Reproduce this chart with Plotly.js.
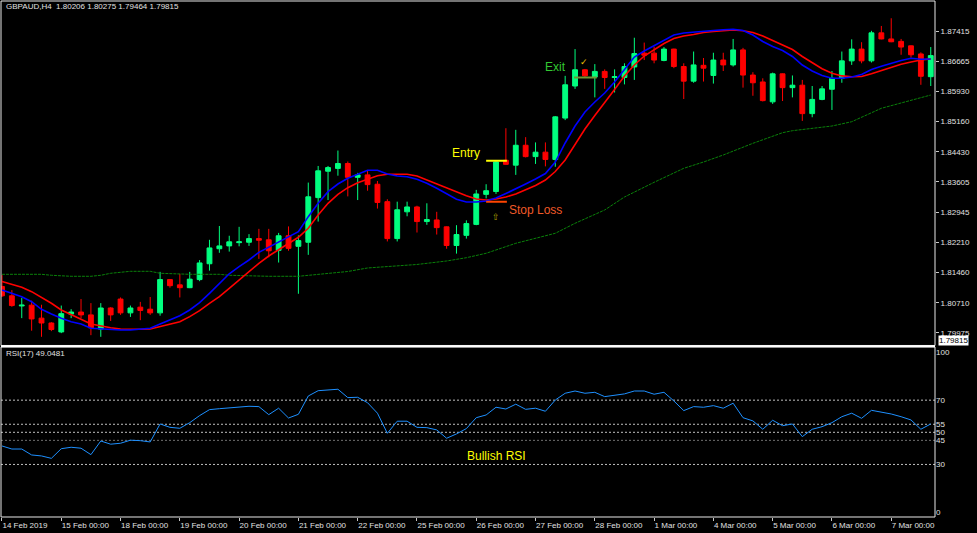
<!DOCTYPE html>
<html><head><meta charset="utf-8">
<script src="https://cdn.plot.ly/plotly-3.0.1.min.js"></script>
<style>html,body{margin:0;padding:0;background:#000;}#chart{width:977px;height:533px;}</style>
</head><body><div id="chart"></div>
<script>
// ---- data ----
var barOpen = [1.8112,1.8089,1.8064,1.8066,1.8034,1.8022,1.8000,1.8044,1.8049,1.8042,
1.8007,1.8059,1.8081,1.8047,1.8061,1.8056,1.8047,1.8129,1.8116,1.8109,
1.8129,1.8168,1.8205,1.8212,1.8220,1.8221,1.8230,1.8227,1.8201,1.8237,
1.8211,1.8221,1.8331,1.8396,1.8403,1.8415,1.8381,1.8387,1.8364,1.8321,
1.8230,1.8296,1.8308,1.8272,1.8276,1.8259,1.8213,1.8238,1.8265,1.8339,
1.8346,1.8423,1.8411,1.8460,1.8432,1.8443,1.8425,1.8527,1.8606,1.8646,
1.8628,1.8642,1.8627,1.8627,1.8653,1.8687,1.8687,1.8669,1.8697,1.8654,
1.8618,1.8657,1.8632,1.8670,1.8658,1.8695,1.8633,1.8616,1.8567,1.8636,
1.8602,1.8608,1.8538,1.8573,1.8598,1.8625,1.8668,1.8697,1.8668,1.8737,
1.8722,1.8716,1.8705,1.8685,1.8629];
var barHigh = [1.8140,1.8103,1.8084,1.8077,1.8067,1.8024,1.8065,1.8056,1.8081,1.8071,
1.8071,1.8061,1.8085,1.8065,1.8074,1.8086,1.8148,1.8130,1.8143,1.8148,
1.8177,1.8227,1.8261,1.8237,1.8259,1.8241,1.8254,1.8254,1.8244,1.8260,
1.8238,1.8368,1.8409,1.8409,1.8447,1.8420,1.8392,1.8398,1.8372,1.8327,
1.8321,1.8321,1.8311,1.8317,1.8296,1.8260,1.8263,1.8275,1.8350,1.8364,
1.8422,1.8502,1.8498,1.8480,1.8467,1.8467,1.8532,1.8631,1.8697,1.8648,
1.8660,1.8647,1.8647,1.8662,1.8725,1.8713,1.8703,1.8702,1.8698,1.8662,
1.8691,1.8675,1.8688,1.8688,1.8722,1.8700,1.8640,1.8625,1.8639,1.8637,
1.8632,1.8621,1.8606,1.8606,1.8643,1.8691,1.8721,1.8714,1.8742,1.8754,
1.8773,1.8722,1.8706,1.8689,1.8702];
var barLow = [1.8086,1.8062,1.8034,1.8003,1.7988,1.8002,1.7997,1.8034,1.8034,1.7992,
1.7988,1.8027,1.8042,1.8037,1.8029,1.8042,1.8040,1.8109,1.8085,1.8108,
1.8125,1.8151,1.8195,1.8198,1.8211,1.8212,1.8180,1.8184,1.8171,1.8200,
1.8094,1.8190,1.8272,1.8325,1.8385,1.8334,1.8325,1.8348,1.8304,1.8223,
1.8223,1.8285,1.8245,1.8264,1.8240,1.8205,1.8193,1.8230,1.8263,1.8329,
1.8340,1.8412,1.8387,1.8430,1.8414,1.8408,1.8407,1.8522,1.8599,1.8628,
1.8578,1.8599,1.8590,1.8610,1.8621,1.8670,1.8662,1.8667,1.8650,1.8574,
1.8614,1.8617,1.8612,1.8643,1.8654,1.8602,1.8582,1.8568,1.8562,1.8569,
1.8578,1.8520,1.8529,1.8571,1.8547,1.8614,1.8658,1.8662,1.8664,1.8721,
1.8714,1.8683,1.8676,1.8609,1.8606];
var barClose = [1.8089,1.8065,1.8066,1.8032,1.8022,1.8006,1.8045,1.8049,1.8042,1.8010,
1.8059,1.8042,1.8047,1.8059,1.8053,1.8047,1.8129,1.8114,1.8109,1.8130,
1.8170,1.8207,1.8212,1.8222,1.8222,1.8230,1.8226,1.8200,1.8237,1.8206,
1.8225,1.8333,1.8397,1.8405,1.8415,1.8381,1.8387,1.8363,1.8319,1.8230,
1.8301,1.8308,1.8272,1.8277,1.8257,1.8213,1.8240,1.8267,1.8340,1.8348,
1.8419,1.8413,1.8460,1.8432,1.8443,1.8425,1.8530,1.8609,1.8646,1.8631,
1.8642,1.8627,1.8629,1.8654,1.8686,1.8682,1.8670,1.8697,1.8654,1.8618,
1.8658,1.8650,1.8670,1.8658,1.8695,1.8633,1.8614,1.8570,1.8636,1.8602,
1.8608,1.8538,1.8573,1.8599,1.8625,1.8668,1.8697,1.8668,1.8737,1.8722,
1.8715,1.8702,1.8683,1.8630,1.8681];
var maFast = [1.81033,1.80952,1.80868,1.80745,1.80558,1.80442,1.80336,1.80252,1.80196,1.80090,
1.80072,1.80048,1.80048,1.80048,1.80072,1.80090,1.80196,1.80294,1.80400,1.80541,
1.80721,1.80952,1.81199,1.81433,1.81608,1.81773,1.81962,1.82086,1.82209,1.82332,
1.82470,1.82840,1.83170,1.83456,1.83645,1.83786,1.83884,1.83983,1.83983,1.83892,
1.83842,1.83825,1.83761,1.83663,1.83539,1.83399,1.83268,1.83202,1.83202,1.83226,
1.83300,1.83411,1.83522,1.83645,1.83768,1.83904,1.84187,1.84656,1.85074,1.85419,
1.85666,1.85888,1.86159,1.86479,1.86775,1.86922,1.87058,1.87193,1.87317,1.87366,
1.87391,1.87415,1.87428,1.87445,1.87457,1.87428,1.87317,1.87156,1.87033,1.86935,
1.86787,1.86577,1.86430,1.86319,1.86250,1.86250,1.86282,1.86343,1.86467,1.86548,
1.86627,1.86688,1.86743,1.86718,1.86725];
var maSlow = [1.81243,1.81169,1.81100,1.80992,1.80854,1.80706,1.80541,1.80417,1.80311,1.80196,
1.80146,1.80105,1.80072,1.80065,1.80065,1.80072,1.80129,1.80196,1.80252,1.80376,
1.80523,1.80706,1.80868,1.81075,1.81280,1.81484,1.81691,1.81871,1.82019,1.82184,
1.82332,1.82554,1.82881,1.83170,1.83391,1.83554,1.83677,1.83761,1.83850,1.83884,
1.83892,1.83884,1.83842,1.83744,1.83638,1.83539,1.83441,1.83357,1.83276,1.83251,
1.83276,1.83325,1.83399,1.83497,1.83608,1.83744,1.83953,1.84237,1.84606,1.85000,
1.85333,1.85641,1.85974,1.86306,1.86577,1.86799,1.86959,1.87107,1.87230,1.87292,
1.87329,1.87378,1.87403,1.87428,1.87440,1.87423,1.87378,1.87292,1.87186,1.87083,
1.86959,1.86787,1.86627,1.86486,1.86373,1.86309,1.86289,1.86294,1.86363,1.86442,
1.86528,1.86597,1.86651,1.86701,1.86725];
var maLongBars = [0,4,5,7,9,10,11,13,15,16,19,22,23,27,30,32,33,35,37,39,42,45,47,49,52,56,58,61,63,66,69,71,73,76,79,80,84,86,89,94];
var maLong = [1.81420,1.81420,1.81396,1.81371,1.81371,1.81396,1.81445,1.81494,1.81494,1.81445,
1.81420,1.81420,1.81396,1.81371,1.81371,1.81420,1.81445,1.81489,1.81576,1.81612,
1.81662,1.81748,1.81829,1.81938,1.82184,1.82431,1.82677,1.83005,1.83325,1.83687,
1.84032,1.84187,1.84360,1.84648,1.84909,1.84959,1.85074,1.85180,1.85511,1.85838];
var rsi = [41.5,39.6,39.6,35.9,35.3,33.8,39.8,40.7,40.1,36.1,
44.6,42.6,43.2,45.1,44.8,44.0,55.2,53.1,52.5,56.0,
60.4,64.1,64.7,65.3,65.6,66.2,66.0,61.0,65.0,58.9,
61.2,72.6,75.9,76.2,76.8,71.6,71.8,68.4,61.9,49.4,
56.9,56.9,53.1,52.9,51.5,46.3,49.0,52.3,59.1,60.8,
65.6,64.5,67.5,64.3,65.0,63.1,70.1,74.3,75.7,74.3,
74.9,72.2,73.1,73.9,75.7,75.7,73.7,74.9,69.5,63.5,
66.0,65.6,66.6,65.0,68.1,59.1,57.1,51.9,57.5,54.1,
55.2,47.3,51.9,53.5,56.0,59.7,61.9,58.7,63.7,62.5,
61.4,59.7,57.7,51.9,55.2];
var dayTickBars = [0,6,12,18,24,30,36,42,48,54,60,66,72,78,84,90];
var dayTickText = ["14 Feb 2019","15 Feb 00:00","18 Feb 00:00","19 Feb 00:00","20 Feb 00:00","21 Feb 00:00","22 Feb 00:00","25 Feb 00:00","26 Feb 00:00","27 Feb 00:00","28 Feb 00:00","1 Mar 00:00","4 Mar 00:00","5 Mar 00:00","6 Mar 00:00","7 Mar 00:00"];
var priceTickText = ["1.87415","1.86665","1.85930","1.85160","1.84430","1.83605","1.82945","1.82210","1.81460","1.80710","1.79975"];
var rsiLevels = [30,45,50,55,70];
var rsiTickVals = [0,30,45,50,55,70,100];
var headerText = "GBPAUD,H4  1.80206 1.80275 1.79464 1.79815";
var rsiHeader = "RSI(17) 49.0481";
var lastPriceText = "1.79815";
var entryPrice = 1.8422, stopPrice = 1.8321, exitPrice = 1.8627;
var entryBars = [49.0, 51.1], exitBars = [57.9, 60.2];

// ---- build ----
var bars = barOpen.map(function(_, i){ return i; });
var pTop = parseFloat(priceTickText[0]), pBot = parseFloat(priceTickText[priceTickText.length-1]);
var pStep = (pTop - pBot) / (priceTickText.length - 1);
var priceTickVals = priceTickText.map(function(_, i){ return pTop - i*pStep; });

var GREEN = '#00ff7f', RED = '#ff0000';
var FONT = 'Liberation Sans, Arial, sans-serif';
var AX = '#c8c8c8';

var traces = [
  {type:'candlestick', x:bars, open:barOpen, high:barHigh, low:barLow, close:barClose,
   xaxis:'x', yaxis:'y', hoverinfo:'skip', whiskerwidth:0,
   increasing:{line:{color:GREEN, width:1}, fillcolor:GREEN},
   decreasing:{line:{color:RED, width:1}, fillcolor:RED}},
  {type:'scatter', mode:'lines', x:maLongBars, y:maLong, xaxis:'x', yaxis:'y',
   line:{color:'#0a800a', width:1, dash:'3px,1px'}, hoverinfo:'skip'},
  {type:'scatter', mode:'lines', x:bars, y:maSlow, xaxis:'x', yaxis:'y',
   line:{color:'#ff0000', width:1.6}, hoverinfo:'skip'},
  {type:'scatter', mode:'lines', x:bars, y:maFast, xaxis:'x', yaxis:'y',
   line:{color:'#0000ff', width:1.6}, hoverinfo:'skip'},
  {type:'scatter', mode:'lines', x:bars, y:rsi, xaxis:'x', yaxis:'y2',
   line:{color:'#1e90ff', width:1}, hoverinfo:'skip'}
];

var shapes = [];
rsiLevels.forEach(function(l){
  shapes.push({type:'line', xref:'paper', yref:'y2', x0:0, x1:1, y0:l, y1:l,
    line:{color: l===45 ? '#707070' : '#c0c0c0', width:1, dash:'2px,2px'}, layer:'below'});
});
shapes.push({type:'line', xref:'x', yref:'y', x0:entryBars[0], x1:entryBars[1], y0:entryPrice, y1:entryPrice, line:{color:'#ffff00', width:2}});
shapes.push({type:'line', xref:'x', yref:'y', x0:entryBars[0], x1:entryBars[1], y0:stopPrice, y1:stopPrice, line:{color:'#ff4500', width:2}});
shapes.push({type:'line', xref:'x', yref:'y', x0:exitBars[0], x1:exitBars[1], y0:exitPrice, y1:exitPrice, line:{color:'#6e9632', width:2}});
// frames
shapes.push({type:'rect', xref:'paper', yref:'paper', x0:0, x1:1, y0:0.3324, y1:1, line:{color:'#e8e8e8', width:1}});
shapes.push({type:'rect', xref:'paper', yref:'paper', x0:0, x1:1, y0:0, y1:0.3295, line:{color:'#e8e8e8', width:1}});
shapes.push({type:'line', xref:'paper', yref:'paper', x0:0, x1:1, y0:0.3310, y1:0.3310, line:{color:'#ffffff', width:2}});

var annotations = [
  {xref:'paper', yref:'paper', x:0.003, y:0.9884, xanchor:'left', yanchor:'middle', text:headerText, showarrow:false, font:{family:FONT, size:8, color:'#e0e0e0'}},
  {xref:'paper', yref:'paper', x:0.003, y:0.3172, xanchor:'left', yanchor:'middle', text:rsiHeader, showarrow:false, font:{family:FONT, size:8, color:'#e0e0e0'}},
  {xref:'x', yref:'y', x:47.0, y:1.8440, xanchor:'center', yanchor:'middle', text:'Entry', showarrow:false, font:{family:FONT, size:12, color:'#ffff00'}},
  {xref:'x', yref:'y', x:54.0, y:1.8300, xanchor:'center', yanchor:'middle', text:'Stop Loss', showarrow:false, font:{family:FONT, size:12, color:'#f05a28'}},
  {xref:'x', yref:'y', x:50.0, y:1.8284, xanchor:'center', yanchor:'middle', text:'⇧', showarrow:false, font:{family:'DejaVu Sans', size:9, color:'#b0a000'}},
  {xref:'x', yref:'y', x:56.0, y:1.8654, xanchor:'center', yanchor:'middle', text:'Exit', showarrow:false, font:{family:FONT, size:12, color:'#32c832'}},
  {xref:'x', yref:'y', x:58.9, y:1.8666, xanchor:'center', yanchor:'middle', text:'✓', showarrow:false, font:{family:'DejaVu Sans', size:9, color:'#f0c000'}},
  {xref:'x', yref:'y2', x:50.0, y:35.5, xanchor:'center', yanchor:'middle', text:'Bullish RSI', showarrow:false, font:{family:FONT, size:12, color:'#ffff00'}},
  {xref:'paper', yref:'paper', x:1.0032, y:0.3415, xanchor:'left', yanchor:'middle', text:lastPriceText, showarrow:false, bgcolor:'#ffffff', borderpad:0, font:{family:FONT, size:8, color:'#000000'}}
];

var layout = {
  width:977, height:533, paper_bgcolor:'#000000', plot_bgcolor:'#000000',
  margin:{l:1, r:42, t:1, b:16}, showlegend:false, dragmode:false,
  xaxis:{type:'linear', range:[-0.1, 94.43], anchor:'y2', domain:[0,1],
    rangeslider:{visible:false}, showgrid:false, zeroline:false, showline:false,
    tickmode:'array', tickvals:dayTickBars, ticktext:dayTickText,
    ticks:'outside', ticklen:3, tickcolor:AX, ticklabelposition:'outside right',
    tickfont:{family:FONT, size:8, color:'#e0e0e0'}},
  yaxis:{domain:[0.3324, 1], range:[1.79666, 1.88155], side:'right', anchor:'x',
    showgrid:false, zeroline:false, showline:false,
    tickmode:'array', tickvals:priceTickVals, ticktext:priceTickText,
    ticks:'outside', ticklen:3, tickcolor:AX,
    tickfont:{family:FONT, size:8, color:'#e0e0e0'}},
  yaxis2:{domain:[0, 0.3295], range:[-2.7, 103.1], side:'right', anchor:'x',
    showgrid:false, zeroline:false, showline:false,
    tickmode:'array', tickvals:rsiTickVals, ticktext:rsiTickVals.map(String),
    ticks:'', tickfont:{family:FONT, size:8, color:'#e0e0e0'}},
  shapes:shapes, annotations:annotations
};

Plotly.newPlot('chart', traces, layout, {staticPlot:true, displayModeBar:false});
</script></body></html>
